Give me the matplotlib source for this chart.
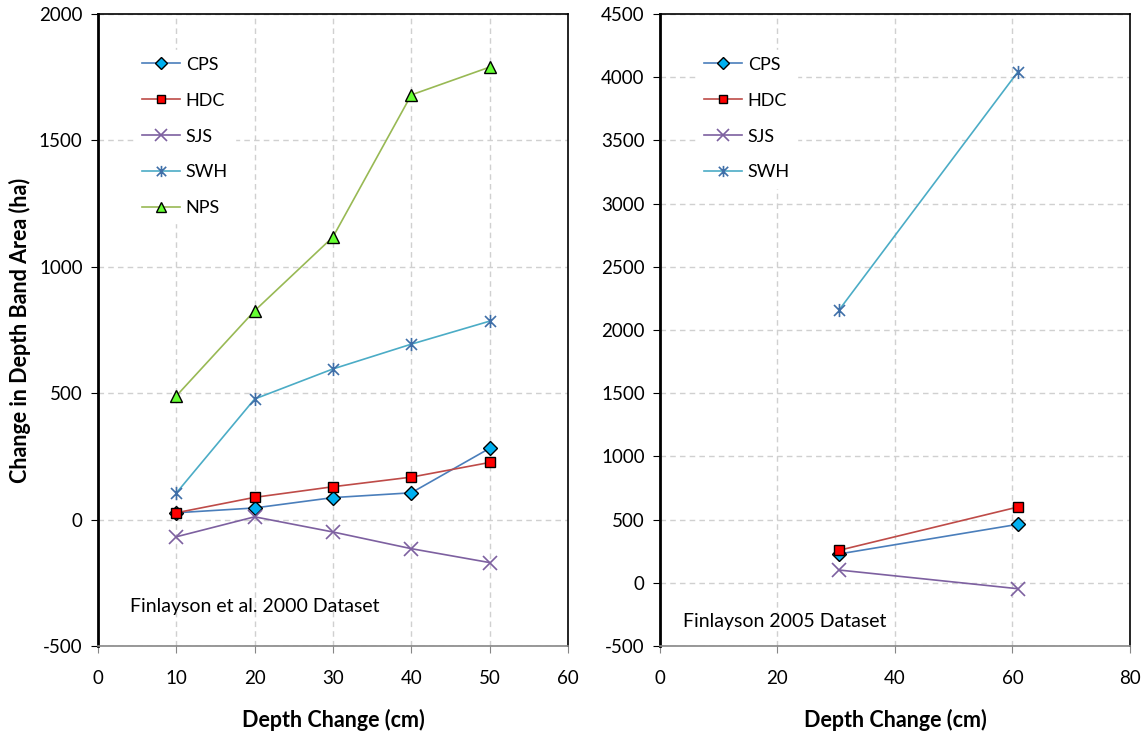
import matplotlib.pyplot as plt
from matplotlib.path import Path

plt.rcParams["font.family"] = ["Lato", "DejaVu Sans"]
plt.rcParams["axes.unicode_minus"] = False

# Finlayson et al. 2000 dataset
depth_2000 = [10, 20, 30, 40, 50]
cps_2000 = [27, 46, 87, 106, 282]
hdc_2000 = [27, 88, 130, 168, 226]
sjs_2000 = [-68, 11, -49, -115, -170]
swh_2000 = [105, 477, 596, 694, 785]
nps_2000 = [489, 826, 1118, 1680, 1790]

# Finlayson 2005 dataset
depth_2005 = [30.48, 60.96]
cps_2005 = [228, 463]
hdc_2005 = [257, 600]
sjs_2005 = [101, -47]
swh_2005 = [2158, 4045]

# Excel-style asterisk marker (x plus vertical bar)
star_path = Path(
    [(-1, -1), (1, 1), (-1, 1), (1, -1), (0, -1.2), (0, 1.2)],
    [Path.MOVETO, Path.LINETO, Path.MOVETO, Path.LINETO, Path.MOVETO, Path.LINETO],
)

styles = {
    "CPS": dict(color="#4a7ebb", marker="D", markerfacecolor="#00b0f0", markeredgecolor="black", markersize=7),
    "HDC": dict(color="#be4b48", marker="s", markerfacecolor="#ff0000", markeredgecolor="black", markersize=7.5),
    "SJS": dict(color="#7d60a0", marker="x", markeredgecolor="#7d60a0", markersize=9.5, markeredgewidth=1.2),
    "SWH": dict(color="#4bacc6", marker=star_path, markeredgecolor="#3f6fa8", markersize=9.5, markeredgewidth=1.2),
    "NPS": dict(color="#98b954", marker="^", markerfacecolor="#66ff33", markeredgecolor="black", markersize=8.5),
}

fig = plt.figure(figsize=(11.43, 7.34), dpi=100)
ax1 = fig.add_axes([0.0857, 0.1199, 0.4112, 0.861])
ax2 = fig.add_axes([0.5774, 0.1199, 0.4112, 0.861])


def style_axes(ax):
    ax.grid(True, color="#d0d0d0", linestyle=(0, (4, 3)), linewidth=1)
    ax.set_axisbelow(True)
    ax.spines["left"].set_linewidth(2)
    ax.spines["left"].set_color("black")
    ax.spines["top"].set_linewidth(1.2)
    ax.spines["right"].set_linewidth(1.2)
    ax.spines["bottom"].set_color("#868686")
    ax.spines["bottom"].set_linewidth(1.2)
    ax.tick_params(axis="both", direction="out", length=5, labelsize=13.5, pad=6)
    ax.tick_params(axis="x", color="#868686", pad=12)
    ax.set_xlabel("Depth Change (cm)", fontsize=15.5, fontweight="bold", labelpad=16)


for name, ys in [("CPS", cps_2000), ("HDC", hdc_2000), ("SJS", sjs_2000), ("SWH", swh_2000), ("NPS", nps_2000)]:
    ax1.plot(depth_2000, ys, linewidth=1.2, label=name, **styles[name])

for name, ys in [("CPS", cps_2005), ("HDC", hdc_2005), ("SJS", sjs_2005), ("SWH", swh_2005)]:
    ax2.plot(depth_2005, ys, linewidth=1.2, label=name, **styles[name])

ax1.set_xlim(0, 60)
ax1.set_ylim(-500, 2000)
ax1.set_xticks(range(0, 61, 10))
ax1.set_yticks(range(-500, 2001, 500))
style_axes(ax1)
ax1.set_ylabel("Change in Depth Band Area (ha)", fontsize=15.5, fontweight="bold", labelpad=6)
ax1.text(0.068, 0.063, "Finlayson et al. 2000 Dataset", transform=ax1.transAxes,
         fontsize=14, va="center")

ax2.set_xlim(0, 80)
ax2.set_ylim(-500, 4500)
ax2.set_xticks(range(0, 81, 20))
ax2.set_yticks(range(-500, 4501, 500))
style_axes(ax2)
ax2.text(0.05, 0.038, "Finlayson 2005 Dataset", transform=ax2.transAxes,
         fontsize=14, va="center")

for ax in (ax1, ax2):
    leg = ax.legend(loc="upper left", bbox_to_anchor=(0.06, 0.958), frameon=True, fontsize=13,
                    labelspacing=1.1, handlelength=2.1, handletextpad=0.3, borderpad=0.4,
                    markerscale=0.85)
    leg.get_frame().set_edgecolor("white")
    leg.get_frame().set_facecolor("white")
    leg.get_frame().set_alpha(1)

fig.savefig("out.png", dpi=100)
